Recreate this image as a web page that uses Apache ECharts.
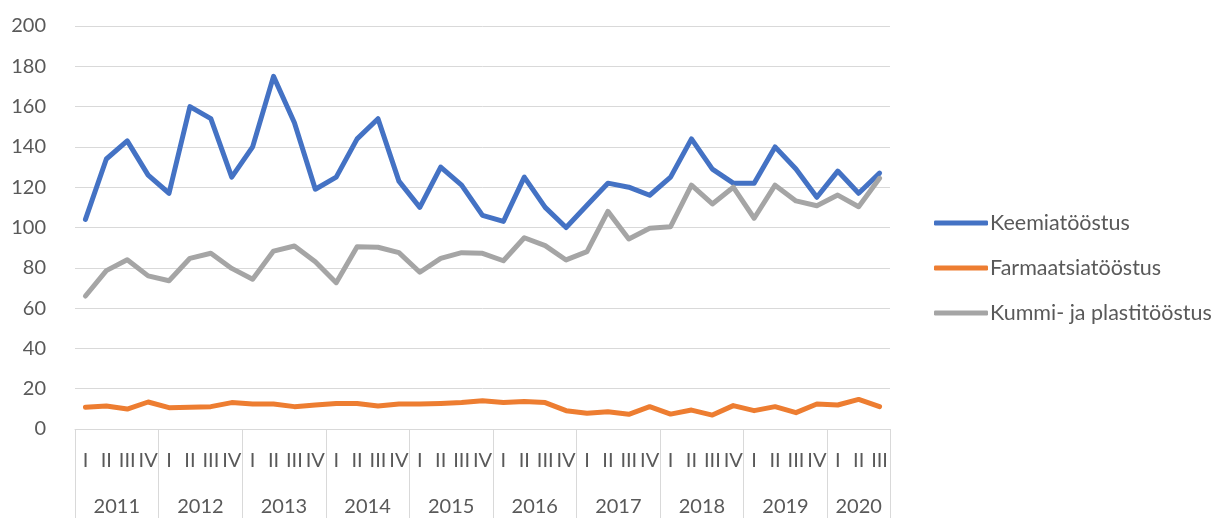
<!DOCTYPE html>
<html>
<head>
<meta charset="utf-8">
<script src="https://cdn.jsdelivr.net/npm/echarts@6/dist/echarts.min.js"></script>
<style>
    html, body { margin: 0; padding: 0; background: #fff; }
    #chart { width: 1220px; height: 518px; }
</style>
</head>
<body>
<div id="chart"></div>
<script>
// quarters 2011 I .. 2020 III
const years = ['2011', '2012', '2013', '2014', '2015', '2016', '2017', '2018', '2019', '2020'];
const quarterCounts = [4, 4, 4, 4, 4, 4, 4, 4, 4, 3];
const quarterNames = ['I', 'II', 'III', 'IV'];

const keemia = [
    104, 134, 143, 126, 117, 160, 154, 125,
    140, 175, 152, 119, 125, 144, 154, 123,
    110, 130, 121, 106, 103, 125, 110, 100,
    111, 122, 120, 116, 125, 144, 129, 122,
    122, 140, 129, 115, 128, 117, 127,
];
const farmaatsia = [
    10.8, 11.4, 9.9, 13.4, 10.6, 10.8, 11.1, 13.1,
    12.4, 12.4, 11.1, 11.9, 12.7, 12.7, 11.4, 12.4,
    12.4, 12.7, 13.1, 14.0, 13.1, 13.6, 13.1, 9.1,
    7.8, 8.6, 7.3, 11.1, 7.4, 9.4, 6.9, 11.6,
    9.1, 11.1, 8.1, 12.4, 11.9, 14.7, 11.1,
];
const kummi = [
    66, 78.6, 84, 76, 73.6, 84.7, 87.2, 79.7,
    74.3, 88.3, 90.8, 83, 72.6, 90.5, 90.2, 87.5,
    77.8, 84.7, 87.5, 87.2, 83.5, 94.9, 91, 83.9,
    88, 108, 94.3, 99.6, 100.4, 121, 111.7, 120,
    104.6, 121, 113.2, 110.8, 116.1, 110.3, 124.4,
];

const categories = [];
const yearCenters = [];
const yearBounds = [0];
let pos = 0;
years.forEach((y, i) => {
    for (let q = 0; q < quarterCounts[i]; q++) {
        categories.push(quarterNames[q]);
    }
    yearCenters.push(pos + quarterCounts[i] / 2);
    pos += quarterCounts[i];
    yearBounds.push(pos);
});

const textColor = '#595959';
const lineColor = '#d9d9d9';
const font = 'Lato, "Open Sans", sans-serif';

const chart = echarts.init(document.getElementById('chart'));
const makeSeries = (name, data, color) => ({
    name,
    type: 'line',
    data,
    symbol: 'none',
    smooth: false,
    lineStyle: { color, width: 5, cap: 'round', join: 'round' },
    itemStyle: { color },
});

chart.setOption({
    backgroundColor: '#fff',
    animation: false,
    textStyle: { fontFamily: font },
    grid: {
        left: 75,
        right: 330,
        top: 26,
        bottom: 89,
        containLabel: false,
        outerBoundsMode: 'none',
    },
    legend: {
        orient: 'vertical',
        left: 929,
        top: 207,
        icon: 'roundRect',
        itemWidth: 54,
        itemHeight: 5,
        itemGap: 23,
        textStyle: { color: textColor, fontSize: 21.5, fontFamily: font, padding: [0, 0, 0, -3] },
        data: ['Keemiatööstus', 'Farmaatsiatööstus', 'Kummi- ja plastitööstus'],
    },
    xAxis: [
        {
            type: 'category',
            data: categories,
            boundaryGap: true,
            axisLine: { lineStyle: { color: lineColor, width: 1 } },
            axisTick: { show: false },
            axisLabel: { interval: 0, color: textColor, fontSize: 20, margin: 22 },
        },
        {
            type: 'value',
            min: 0,
            max: categories.length,
            position: 'bottom',
            axisLine: { show: false },
            splitLine: { show: false },
            axisTick: {
                show: true,
                customValues: yearBounds,
                length: 89,
                lineStyle: { color: lineColor, width: 1 },
            },
            axisLabel: {
                customValues: yearCenters,
                color: textColor,
                fontSize: 20,
                margin: 68,
                formatter: (v) => {
                    const i = yearCenters.indexOf(v);
                    return i >= 0 ? years[i] : '';
                },
            },
        },
    ],
    yAxis: {
        type: 'value',
        min: 0,
        max: 200,
        interval: 20,
        axisLine: { show: false },
        axisTick: { show: false },
        axisLabel: { color: textColor, fontSize: 20, margin: 29 },
        splitLine: { lineStyle: { color: lineColor, width: 1 } },
    },
    series: [
        makeSeries('Keemiatööstus', keemia, '#4472C4'),
        makeSeries('Farmaatsiatööstus', farmaatsia, '#ED7D31'),
        makeSeries('Kummi- ja plastitööstus', kummi, '#A5A5A5'),
    ],
});
</script>
</body>
</html>
